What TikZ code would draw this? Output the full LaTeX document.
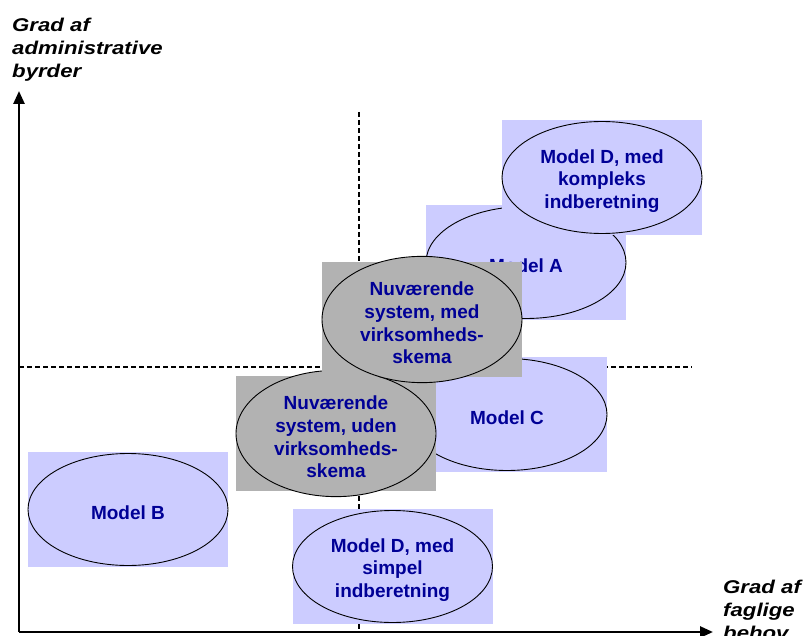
\documentclass[tikz,border=0pt]{standalone}
\usepackage{fontspec}
\setmainfont{Liberation Sans}
\newfontfamily\axisfont[FakeStretch=1.2]{Liberation Sans}
\usetikzlibrary{arrows.meta,shapes.geometric}
\definecolor{lav}{RGB}{204,204,255}
\definecolor{grayfill}{RGB}{178,178,178}
\definecolor{navy}{RGB}{0,0,150}
\newcommand\tstrut{\rule{0pt}{21pt}}
\tikzset{
  lavbox/.style={fill=lav, draw=none, minimum width=200pt, minimum height=115pt, inner sep=0pt},
  graybox/.style={fill=grayfill, draw=none, minimum width=200pt, minimum height=115pt, inner sep=0pt},
  ell/.style={ellipse, draw=black, line width=0.9pt, minimum width=200pt, minimum height=112pt, inner sep=0pt,
    align=center, text=navy, font=\fontsize{19}{22.7}\selectfont\bfseries},
  lavell/.style={ell, fill=lav},
  grayell/.style={ell, fill=grayfill},
  axisline/.style={line width=2.6pt, -{Triangle[length=13pt,width=11pt]}},
  dashline/.style={line width=1.2pt, dash pattern=on 5pt off 3pt},
  axislbl/.style={align=left, inner sep=0pt, font=\axisfont\fontsize{18.5}{23}\selectfont\bfseries\itshape}
}
\begin{document}
\begin{tikzpicture}[x=1pt,y=-1pt]
\useasboundingbox (0,0) rectangle (805,636);
% dashed quadrant lines
\coordinate (vtop) at (359,112);
\coordinate (vbot) at (359,632);
\coordinate (hl) at (19,367);
\coordinate (hr) at (692,367);
\draw[dashline] (vtop) -- (vbot);
\draw[dashline] (hl) -- (hr);
% Model B
\node[lavbox] (bB) at (128,509.5) {};
\node[lavell] (B) at (bB) {\tstrut Model B};
% Model C
\node[lavbox] (bC) at (507,414.5) {};
\node[lavell] (C) at (bC) {\tstrut Model C};
% Model A
\node[lavbox] (bA) at (526,262.5) {};
\node[lavell] (A) at (bA) {\tstrut Model A};
% Model D kompleks
\node[lavbox] (bDK) at (602,177.5) {};
\node[lavell] (DK) at (bDK) {\tstrut Model D, med\\kompleks\\indberetning};
% Model D simpel
\node[lavbox] (bDS) at (392.5,566.5) {};
\node[lavell] (DS) at (bDS) {\tstrut Model D, med\\simpel\\indberetning};
% Nuvaerende uden
\node[graybox] (bNU) at (336,433.5) {};
\node[grayell] (NU) at (bNU) {\tstrut Nuværende\\system, uden\\virksomheds-\\skema};
% Nuvaerende med
\node[graybox] (bNM) at (422,319.5) {};
\node[grayell] (NM) at (bNM) {\tstrut Nuværende\\system, med\\virksomheds-\\skema};
% axes
\coordinate (O) at (19,632);
\coordinate (ytip) at (19,91);
\coordinate (xtip) at (713,632);
\draw[axisline] (O) -- (ytip);
\draw[axisline] (O) -- (xtip);
% axis labels
\node[axislbl, anchor=base west] (ylab) at (12,78) {Grad af\\administrative\\byrder};
\node[axislbl, anchor=base west] (xlab) at (723,639) {Grad af\\faglige\\behov};
\end{tikzpicture}
\end{document}
